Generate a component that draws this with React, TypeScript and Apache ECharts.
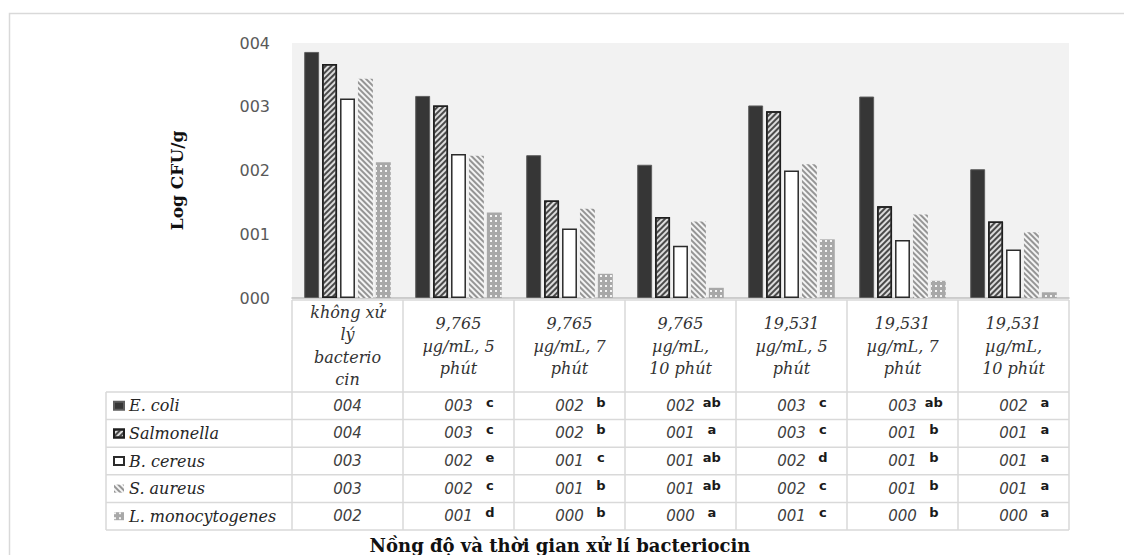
import React, { useEffect, useRef } from 'react';
import * as echarts from 'echarts';

// ---------- data ----------
const categories = [
  'không xử\nlý\nbacterio\ncin',
  '9,765\nµg/mL, 5\nphút',
  '9,765\nµg/mL, 7\nphút',
  '9,765\nµg/mL,\n10 phút',
  '19,531\nµg/mL, 5\nphút',
  '19,531\nµg/mL, 7\nphút',
  '19,531\nµg/mL,\n10 phút',
];
const seriesNames = ['E. coli', 'Salmonella', 'B. cereus', 'S. aureus', 'L. monocytogenes'];

const eColi = [3.86, 3.17, 2.24, 2.09, 3.02, 3.16, 2.02];
const salmonella = [3.67, 3.02, 1.53, 1.27, 2.93, 1.44, 1.2];
const bCereus = [3.13, 2.26, 1.09, 0.82, 2.0, 0.91, 0.76];
const sAureus = [3.44, 2.23, 1.4, 1.2, 2.1, 1.31, 1.03];
const lMono = [2.13, 1.34, 0.38, 0.16, 0.92, 0.27, 0.09];

const eColiLetters = ['', 'c', 'b', 'ab', 'c', 'ab', 'a'];
const salmonellaLetters = ['', 'c', 'b', 'a', 'c', 'b', 'a'];
const bCereusLetters = ['', 'e', 'c', 'ab', 'd', 'b', 'a'];
const sAureusLetters = ['', 'c', 'b', 'ab', 'c', 'b', 'a'];
const lMonoLetters = ['', 'd', 'b', 'a', 'c', 'b', 'a'];

const yMin = 0;
const yMax = 4;
const yInterval = 1;

const xTitle = 'Nồng độ và thời gian xử lí bacteriocin';
const yTitle = 'Log CFU/g';

const rowValues = [eColi, salmonella, bCereus, sAureus, lMono];
const rowLetters = [eColiLetters, salmonellaLetters, bCereusLetters, sAureusLetters, lMonoLetters];

// ---------- layout ----------
const W = 1124;
const H = 555;
const GRID_L = 292;
const GRID_R = 1069;
const GRID_T = 43;
const GRID_B = 298;
const TABLE_L = 106;
const HEADER_T = 300;
const HEADER_B = 392;
const ROW_H = 27.6;

const fmt = (n: number) => String(Math.round(n)).padStart(3, '0');

const seriesStyles: any[] = [
  { color: '#363636', borderColor: '#5e5e5e', borderWidth: 1 },
  {
    color: '#dcdcdc',
    borderColor: '#1f1f1f',
    borderWidth: 1.5,
    decal: { symbol: 'rect', symbolSize: 1, dashArrayX: [1, 0], dashArrayY: [1.5, 2.0], rotation: -Math.PI / 4, color: '#4a4a4a' },
  },
  { color: '#ffffff', borderColor: '#2b2b2b', borderWidth: 1.5 },
  {
    color: '#f4f4f4',
    decal: { symbol: 'rect', symbolSize: 1, dashArrayX: [1, 0], dashArrayY: [1.5, 2.0], rotation: Math.PI / 4, color: '#959595' },
  },
  {
    color: '#a8a8a8',
    decal: { symbol: 'rect', symbolSize: 1, dashArrayX: [1.2, 2.6], dashArrayY: [1.2, 2.6], color: '#f4f4f4' },
  },
];

export default function App() {
  const ref = useRef<HTMLDivElement>(null);
  useEffect(() => {
    if (!ref.current) return;
    const chart = echarts.init(ref.current, undefined, { renderer: 'svg' });
    const catW = (GRID_R - GRID_L) / categories.length;
    const lineStyle = { stroke: '#d9d9d9', lineWidth: 1.5 };
    const graphics: any[] = [];
    // outer border
    graphics.push({ type: 'rect', shape: { x: 9.5, y: 13.5, width: 1300, height: 700 }, style: { fill: 'none', stroke: '#d9d9d9', lineWidth: 1.5 }, silent: true });
    // header top line
    graphics.push({ type: 'line', shape: { x1: GRID_L, y1: HEADER_T, x2: GRID_R, y2: HEADER_T }, style: lineStyle });
    // row lines
    for (let i = 0; i <= seriesNames.length; i++) {
      const y = HEADER_B + i * ROW_H;
      graphics.push({ type: 'line', shape: { x1: TABLE_L, y1: y, x2: GRID_R, y2: y }, style: lineStyle });
    }
    const tableBottom = HEADER_B + seriesNames.length * ROW_H;
    graphics.push({ type: 'line', shape: { x1: TABLE_L, y1: HEADER_B, x2: TABLE_L, y2: tableBottom }, style: lineStyle });
    for (let i = 0; i <= categories.length; i++) {
      const x = GRID_L + i * catW;
      graphics.push({ type: 'line', shape: { x1: x, y1: HEADER_T, x2: x, y2: tableBottom }, style: lineStyle });
    }
    // x title
    graphics.push({
      type: 'text',
      x: 560,
      y: 545,
      style: { text: xTitle, align: 'center', verticalAlign: 'middle', font: 'bold 18px "DejaVu Serif"', fill: '#111' },
    });

    const extraAxes = rowValues.map((vals, ri) => ({
      type: 'category',
      gridIndex: 0,
      data: categories,
      position: 'bottom',
      offset: HEADER_B + ROW_H * (ri + 0.5) - GRID_B,
      axisLine: { show: false },
      axisTick: { show: false },
      splitLine: { show: false },
      axisPointer: { show: false },
      axisLabel: {
        interval: 0,
        margin: 0,
        verticalAlign: 'middle',
        formatter: (_v: string, idx: number) => {
          const letter = rowLetters[ri][idx];
          const val = fmt(vals[idx]);
          return letter ? `{p| }{v|${val}}{g| }{l|${letter}}` : `{v|${val}}`;
        },
        rich: {
          v: { fontFamily: 'DejaVu Sans', fontStyle: 'italic', fontSize: 15, color: '#404040', lineHeight: 20 },
          p: { width: 26, fontSize: 10 },
          g: { width: 8, fontSize: 10 },
          l: { width: 18, align: 'left', fontFamily: 'DejaVu Sans', fontWeight: 'bold', fontSize: 13, color: '#1a1a1a', lineHeight: 13, verticalAlign: 'top' },
        },
      },
    }));

    const option: any = {
      animation: false,
      backgroundColor: '#ffffff',
      grid: {
        left: GRID_L,
        right: W - GRID_R,
        top: GRID_T,
        bottom: H - GRID_B,
        show: true,
        backgroundColor: '#f2f2f2',
        borderWidth: 0,
        containLabel: false,
      },
      legend: {
        orient: 'vertical',
        left: TABLE_L + 2,
        top: HEADER_B + ROW_H / 2 - 8 - 5,
        padding: 5,
        itemWidth: 10,
        itemHeight: 8,
        itemGap: ROW_H - 16,
        icon: 'rect',
        selectedMode: false,
        data: seriesNames,
        textStyle: { fontFamily: 'DejaVu Serif', fontStyle: 'italic', fontSize: 16, color: '#262626', lineHeight: 16 },
      },
      xAxis: [
        {
          type: 'category',
          data: categories,
          position: 'bottom',
          axisLine: { show: true, lineStyle: { color: '#bfbfbf', width: 1.5 } },
          axisTick: { show: false },
          splitLine: { show: false },
          axisLabel: {
            interval: 0,
            margin: (HEADER_T + HEADER_B) / 2 - GRID_B,
            verticalAlign: 'middle',
            fontFamily: 'DejaVu Serif',
            fontStyle: 'italic',
            fontSize: 16,
            lineHeight: 22.5,
            color: '#333333',
          },
        },
        ...extraAxes,
      ],
      yAxis: {
        type: 'value',
        min: yMin,
        max: yMax,
        interval: yInterval,
        axisLine: { show: false },
        axisTick: { show: false },
        splitLine: { show: false },
        axisLabel: {
          margin: 22,
          formatter: (v: number) => fmt(v),
          fontFamily: 'DejaVu Sans',
          fontSize: 16,
          color: '#595959',
        },
        name: yTitle,
        nameLocation: 'middle',
        nameGap: 107,
        nameTextStyle: { fontFamily: 'DejaVu Serif', fontWeight: 'bold', fontSize: 17, color: '#111', padding: [0, 20, 0, 0] },
      },
      series: seriesNames.map((name, si) => ({
        name,
        type: 'bar',
        xAxisIndex: 0,
        yAxisIndex: 0,
        data: rowValues[si],
        barGap: '20%',
        barCategoryGap: '22%',
        itemStyle: seriesStyles[si],
      })),
      graphic: graphics,
    };
    chart.setOption(option);
    return () => chart.dispose();
  }, []);
  return <div ref={ref} style={{ position: 'absolute', left: 0, top: 0, width: W, height: H }} />;
}
